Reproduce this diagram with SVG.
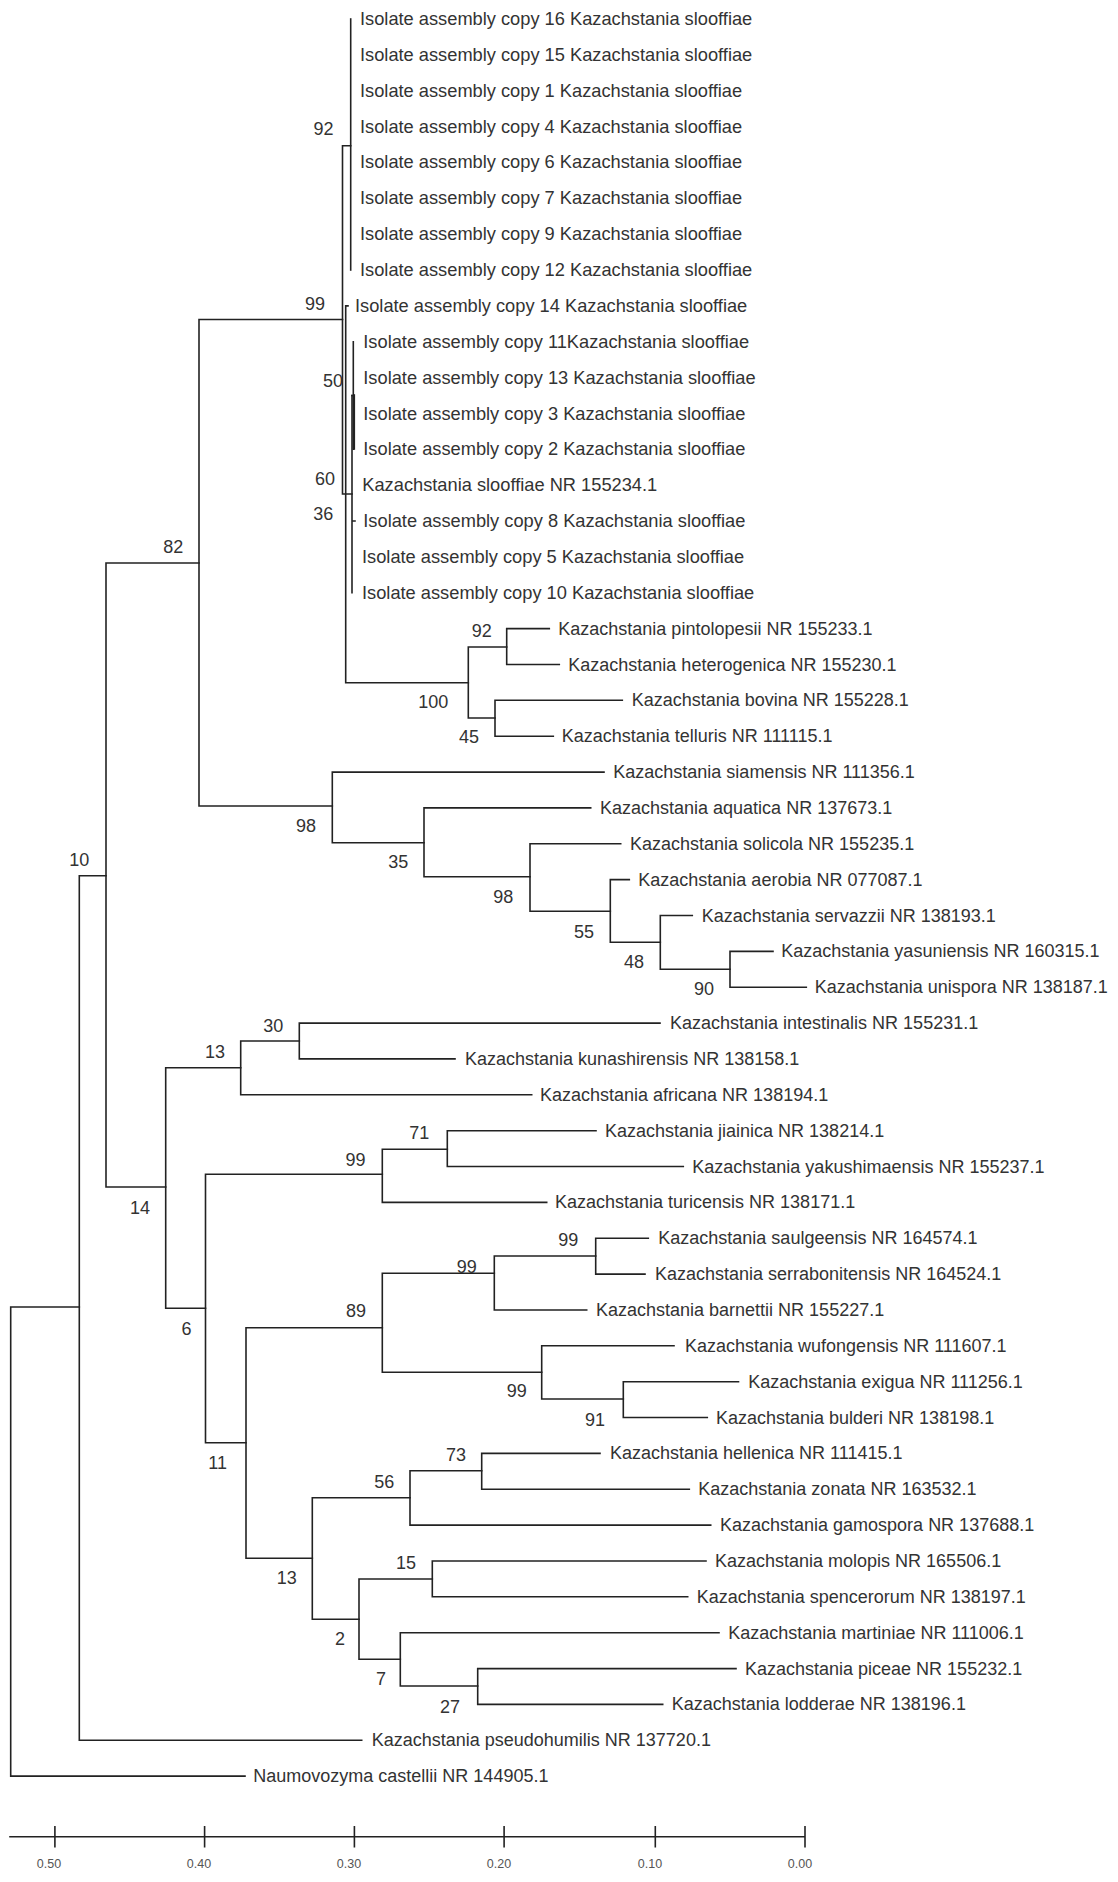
<svg xmlns="http://www.w3.org/2000/svg" width="1118" height="1882" viewBox="0 0 1118 1882">
<style>
.t{font-family:"Liberation Sans",Arial,sans-serif;font-size:18px;fill:#333}
.ti{font-family:"Liberation Sans",Arial,sans-serif;font-size:18.25px;fill:#333}
.b{font-family:"Liberation Sans",Arial,sans-serif;font-size:18px;fill:#333;text-anchor:end}
.s{font-family:"Liberation Sans",Arial,sans-serif;font-size:12.5px;fill:#555;text-anchor:middle}
.br{stroke:#222;stroke-width:1.6;fill:none;stroke-linecap:square}
</style>
<rect width="1118" height="1882" fill="#fff"/>
<g id="connectors" class="br">
<path d="M10.7 1307V1776.1H245M10.7 1307H79.3"/>
<path d="M79.3 875.7V1740.3H361.7M79.3 875.7H106"/>
<path d="M106 563V1187H165.7M106 563H199"/>
<path d="M199 319.5V806H332.3M199 319.5H342.5"/>
<path d="M342.5 145.7V494H352M342.5 145.7H350.7"/>
<path d="M350.7 19V270"/>
<path d="M345.7 305.9V682.7H468.3M345.7 305.9H348"/>
<path d="M352 395.5V592.8M352 521H355"/>
<path d="M352 395.5H353.3M353.3 341.7V449.3"/>
<path d="M354.3 395V449"/>
<path d="M468.3 647V718H495M468.3 647H506.7"/>
<path d="M506.7 628.6V664.5H559.3M506.7 628.6H549.3"/>
<path d="M495 700.3V736.2H553.3M495 700.3H622.3"/>
<path d="M332.3 772.1V842.7H424M332.3 772.1H604"/>
<path d="M424 807.9V876.7H530M424 807.9H590.7"/>
<path d="M530 843.8V911.3H610.3M530 843.8H620.7"/>
<path d="M610.3 879.6V942.3H660.3M610.3 879.6H629.3"/>
<path d="M660.3 915.5V969.3H730M660.3 915.5H692.3"/>
<path d="M730 951.4V987.2H806.3M730 951.4H773"/>
<path d="M165.7 1067.7V1308.3H205.5M165.7 1067.7H240.7"/>
<path d="M240.7 1041V1094.8H531.7M240.7 1041H299.3"/>
<path d="M299.3 1023.1V1058.9H455M299.3 1023.1H660"/>
<path d="M205.5 1174.3V1442.7H246M205.5 1174.3H382.3"/>
<path d="M382.3 1149.3V1202.4H546.7M382.3 1149.3H447.3"/>
<path d="M447.3 1130.7V1166.5H683.3M447.3 1130.7H596"/>
<path d="M246 1327.7V1558.3H312.3M246 1327.7H382.3"/>
<path d="M382.3 1273.3V1372.3H541.7M382.3 1273.3H494.3"/>
<path d="M494.3 1256V1310H586.7M494.3 1256H595.7"/>
<path d="M595.7 1238.2V1274.1H645M595.7 1238.2H648.3"/>
<path d="M541.7 1345.8V1399H623.3M541.7 1345.8H674"/>
<path d="M623.3 1381.7V1417.5H707.3M623.3 1381.7H738.5"/>
<path d="M312.3 1497.7V1619.3H359M312.3 1497.7H410"/>
<path d="M410 1470.7V1525.1H710.7M410 1470.7H481.7"/>
<path d="M481.7 1453.4V1489.3H689.3M481.7 1453.4H600"/>
<path d="M359 1579V1659.3H400.3M359 1579H432.3"/>
<path d="M432.3 1561V1596.8H687.7M432.3 1561H706"/>
<path d="M400.3 1632.7V1686H477.7M400.3 1632.7H719"/>
<path d="M477.7 1668.6V1704.4H662.7M477.7 1668.6H736"/>
</g>
<g id="tips">
<g id="tip-copy16"><text class="ti" x="360" y="25">Isolate assembly copy 16 Kazachstania slooffiae</text></g>
<g id="tip-copy15"><text class="ti" x="360" y="60.9">Isolate assembly copy 15 Kazachstania slooffiae</text></g>
<g id="tip-copy1"><text class="ti" x="360" y="96.7">Isolate assembly copy 1 Kazachstania slooffiae</text></g>
<g id="tip-copy4"><text class="ti" x="360" y="132.6">Isolate assembly copy 4 Kazachstania slooffiae</text></g>
<g id="tip-copy6"><text class="ti" x="360" y="168.4">Isolate assembly copy 6 Kazachstania slooffiae</text></g>
<g id="tip-copy7"><text class="ti" x="360" y="204.3">Isolate assembly copy 7 Kazachstania slooffiae</text></g>
<g id="tip-copy9"><text class="ti" x="360" y="240.2">Isolate assembly copy 9 Kazachstania slooffiae</text></g>
<g id="tip-copy12"><text class="ti" x="360" y="276">Isolate assembly copy 12 Kazachstania slooffiae</text></g>
<g id="tip-copy14"><text class="ti" x="355" y="311.9">Isolate assembly copy 14 Kazachstania slooffiae</text></g>
<g id="tip-copy11"><text class="ti" x="363.3" y="347.7">Isolate assembly copy 11Kazachstania slooffiae</text></g>
<g id="tip-copy13"><text class="ti" x="363.3" y="383.6">Isolate assembly copy 13 Kazachstania slooffiae</text></g>
<g id="tip-copy3"><text class="ti" x="363.3" y="419.5">Isolate assembly copy 3 Kazachstania slooffiae</text></g>
<g id="tip-copy2"><text class="ti" x="363.3" y="455.3">Isolate assembly copy 2 Kazachstania slooffiae</text></g>
<g id="tip-slooffiae"><text class="ti" x="362.3" y="491.2">Kazachstania slooffiae NR 155234.1</text></g>
<g id="tip-copy8"><text class="ti" x="363.3" y="527">Isolate assembly copy 8 Kazachstania slooffiae</text></g>
<g id="tip-copy5"><text class="ti" x="362" y="562.9">Isolate assembly copy 5 Kazachstania slooffiae</text></g>
<g id="tip-copy10"><text class="ti" x="362" y="598.8">Isolate assembly copy 10 Kazachstania slooffiae</text></g>
<g id="tip-pintolopesii"><text class="t" x="558.3" y="634.6">Kazachstania pintolopesii NR 155233.1</text></g>
<g id="tip-heterogenica"><text class="t" x="568.3" y="670.5">Kazachstania heterogenica NR 155230.1</text></g>
<g id="tip-bovina"><text class="t" x="631.7" y="706.3">Kazachstania bovina NR 155228.1</text></g>
<g id="tip-telluris"><text class="t" x="561.7" y="742.2">Kazachstania telluris NR 111115.1</text></g>
<g id="tip-siamensis"><text class="t" x="613.3" y="778.1">Kazachstania siamensis NR 111356.1</text></g>
<g id="tip-aquatica"><text class="t" x="600" y="813.9">Kazachstania aquatica NR 137673.1</text></g>
<g id="tip-solicola"><text class="t" x="630" y="849.8">Kazachstania solicola NR 155235.1</text></g>
<g id="tip-aerobia"><text class="t" x="638.3" y="885.6">Kazachstania aerobia NR 077087.1</text></g>
<g id="tip-servazzii"><text class="t" x="701.7" y="921.5">Kazachstania servazzii NR 138193.1</text></g>
<g id="tip-yasuniensis"><text class="t" x="781.3" y="957.4">Kazachstania yasuniensis NR 160315.1</text></g>
<g id="tip-unispora"><text class="t" x="814.7" y="993.2">Kazachstania unispora NR 138187.1</text></g>
<g id="tip-intestinalis"><text class="t" x="670" y="1029.1">Kazachstania intestinalis NR 155231.1</text></g>
<g id="tip-kunashirensis"><text class="t" x="465" y="1064.9">Kazachstania kunashirensis NR 138158.1</text></g>
<g id="tip-africana"><text class="t" x="540" y="1100.8">Kazachstania africana NR 138194.1</text></g>
<g id="tip-jiainica"><text class="t" x="605" y="1136.7">Kazachstania jiainica NR 138214.1</text></g>
<g id="tip-yakushimaensis"><text class="t" x="692.3" y="1172.5">Kazachstania yakushimaensis NR 155237.1</text></g>
<g id="tip-turicensis"><text class="t" x="555" y="1208.4">Kazachstania turicensis NR 138171.1</text></g>
<g id="tip-saulgeensis"><text class="t" x="658.3" y="1244.2">Kazachstania saulgeensis NR 164574.1</text></g>
<g id="tip-serrabonitensis"><text class="t" x="655" y="1280.1">Kazachstania serrabonitensis NR 164524.1</text></g>
<g id="tip-barnettii"><text class="t" x="596" y="1316">Kazachstania barnettii NR 155227.1</text></g>
<g id="tip-wufongensis"><text class="t" x="685" y="1351.8">Kazachstania wufongensis NR 111607.1</text></g>
<g id="tip-exigua"><text class="t" x="748.3" y="1387.7">Kazachstania exigua NR 111256.1</text></g>
<g id="tip-bulderi"><text class="t" x="716" y="1423.5">Kazachstania bulderi NR 138198.1</text></g>
<g id="tip-hellenica"><text class="t" x="610" y="1459.4">Kazachstania hellenica NR 111415.1</text></g>
<g id="tip-zonata"><text class="t" x="698.3" y="1495.3">Kazachstania zonata NR 163532.1</text></g>
<g id="tip-gamospora"><text class="t" x="720" y="1531.1">Kazachstania gamospora NR 137688.1</text></g>
<g id="tip-molopis"><text class="t" x="715" y="1567">Kazachstania molopis NR 165506.1</text></g>
<g id="tip-spencerorum"><text class="t" x="696.7" y="1602.8">Kazachstania spencerorum NR 138197.1</text></g>
<g id="tip-martiniae"><text class="t" x="728.3" y="1638.7">Kazachstania martiniae NR 111006.1</text></g>
<g id="tip-piceae"><text class="t" x="745" y="1674.6">Kazachstania piceae NR 155232.1</text></g>
<g id="tip-lodderae"><text class="t" x="671.7" y="1710.4">Kazachstania lodderae NR 138196.1</text></g>
<g id="tip-pseudohumilis"><text class="t" x="371.7" y="1746.3">Kazachstania pseudohumilis NR 137720.1</text></g>
<g id="tip-naumovozyma"><text class="t" x="253.3" y="1782.1">Naumovozyma castellii NR 144905.1</text></g>
</g>
<g id="bootstrap">
<g id="node-92a"><text class="b" x="333.5" y="134.8">92</text></g>
<g id="node-99a"><text class="b" x="325" y="309.8">99</text></g>
<g id="node-50"><text class="b" x="343" y="386.5">50</text></g>
<g id="node-60"><text class="b" x="335" y="484.5">60</text></g>
<g id="node-36"><text class="b" x="333.3" y="519.8">36</text></g>
<g id="node-82"><text class="b" x="183.3" y="553.2">82</text></g>
<g id="node-92b"><text class="b" x="491.7" y="636.5">92</text></g>
<g id="node-100"><text class="b" x="448.3" y="708.2">100</text></g>
<g id="node-45"><text class="b" x="479" y="743.2">45</text></g>
<g id="node-98a"><text class="b" x="316" y="832.2">98</text></g>
<g id="node-35"><text class="b" x="408.3" y="868.2">35</text></g>
<g id="node-98b"><text class="b" x="513.3" y="903.2">98</text></g>
<g id="node-55"><text class="b" x="594" y="937.5">55</text></g>
<g id="node-48"><text class="b" x="644" y="968.2">48</text></g>
<g id="node-90"><text class="b" x="714" y="994.8">90</text></g>
<g id="node-10"><text class="b" x="89.3" y="865.5">10</text></g>
<g id="node-30"><text class="b" x="283.2" y="1031.5">30</text></g>
<g id="node-13a"><text class="b" x="225" y="1058.2">13</text></g>
<g id="node-14"><text class="b" x="150" y="1213.8">14</text></g>
<g id="node-71"><text class="b" x="429.3" y="1139.2">71</text></g>
<g id="node-99b"><text class="b" x="365.5" y="1165.8">99</text></g>
<g id="node-6"><text class="b" x="191.4" y="1334.8">6</text></g>
<g id="node-99c"><text class="b" x="578.3" y="1245.8">99</text></g>
<g id="node-99d"><text class="b" x="476.7" y="1273.2">99</text></g>
<g id="node-89"><text class="b" x="366" y="1317.2">89</text></g>
<g id="node-99e"><text class="b" x="526.7" y="1397.2">99</text></g>
<g id="node-91"><text class="b" x="605" y="1425.8">91</text></g>
<g id="node-11"><text class="b" x="227" y="1468.5">11</text></g>
<g id="node-73"><text class="b" x="466" y="1460.5">73</text></g>
<g id="node-56"><text class="b" x="394.3" y="1488.2">56</text></g>
<g id="node-13b"><text class="b" x="296.7" y="1583.8">13</text></g>
<g id="node-15"><text class="b" x="416" y="1569.2">15</text></g>
<g id="node-2"><text class="b" x="345" y="1644.8">2</text></g>
<g id="node-7"><text class="b" x="386" y="1684.8">7</text></g>
<g id="node-27"><text class="b" x="460" y="1712.5">27</text></g>
</g>
<g id="scale-bar">
<path class="br" d="M10 1836.7H805M54.9 1826.7V1846.7M204.6 1826.7V1846.7M354.4 1826.7V1846.7M504.1 1826.7V1846.7M655.3 1826.7V1846.7M805 1826.7V1846.7"/>
<text class="s" x="49" y="1867.5">0.50</text>
<text class="s" x="199" y="1867.5">0.40</text>
<text class="s" x="349" y="1867.5">0.30</text>
<text class="s" x="499" y="1867.5">0.20</text>
<text class="s" x="650" y="1867.5">0.10</text>
<text class="s" x="800" y="1867.5">0.00</text>
</g>
</svg>
